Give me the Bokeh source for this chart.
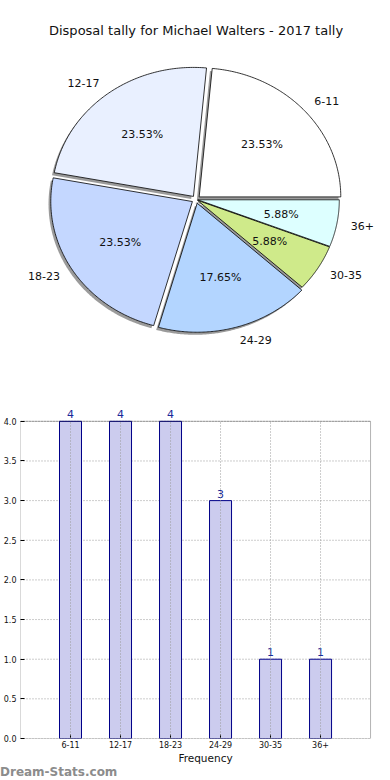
import numpy as np
from bokeh.plotting import figure
from bokeh.layouts import column
from bokeh.models import (Range1d, ColumnDataSource, Label, BoxAnnotation, Div,
                          FixedTicker, PrintfTickFormatter)
from bokeh.embed import file_html
from bokeh.resources import INLINE

# ---------------- data ----------------
chart_title = "Disposal tally for Michael Walters - 2017 tally"
categories = ["6-11", "12-17", "18-23", "24-29", "30-35", "36+"]
counts = [4, 4, 4, 3, 1, 1]
y_ticks = [0.0, 0.5, 1.0, 1.5, 2.0, 2.5, 3.0, 3.5, 4.0]
x_axis_title = "Frequency"
watermark = "Dream-Stats.com"

# ---------------- style ----------------
slice_colors = ["#ffffff", "#e9f0ff", "#c4d7ff", "#b3d5ff", "#cfea8a", "#ddffff"]
explode = [0.03, 0.03, 0.03, 0.03, 0.012, 0.012]
FONT = "DejaVu Sans"
W = 390
H1 = 390
BL = 19                          # frame left inset shared by both plots
FW = W - BL
RX, RY = 142.0, 129.0            # px per unit (pie is drawn as an ellipse)
CX = 195.0 - BL                  # pie centre in frame px from left
CY = 199.0                       # pie centre in frame px from top

# bar-box geometry in page pixels
BOX_L, BOX_R, BOX_T, BOX_B = 19, 370, 421, 740
H2 = 766 - H1
WM_H = 12

# ---------------- pie ----------------
p1 = figure(width=W, height=H1, output_backend="svg", toolbar_location=None,
            x_range=Range1d(-CX / RX, (FW - CX) / RX),
            y_range=Range1d(-(H1 - CY) / RY, CY / RY),
            x_axis_location=None, y_axis_location=None,
            min_border_left=BL, min_border_right=0,
            min_border_top=0, min_border_bottom=0)
p1.grid.visible = False
p1.outline_line_color = None

vals = np.array(counts, dtype=float)
fracs = vals / vals.sum()
ends = np.cumsum(fracs) * 2 * np.pi
starts = ends - fracs * 2 * np.pi

wx, wy, sx, sy = [], [], [], []
for s, e, ex, f, cat in zip(starts, ends, explode, fracs, categories):
    mid = (s + e) / 2
    ox, oy = ex * np.cos(mid), ex * np.sin(mid)
    t = np.linspace(s, e, 120)
    px = np.concatenate([[ox], ox + np.cos(t)])
    py = np.concatenate([[oy], oy + np.sin(t)])
    wx.append(px); wy.append(py)
    sx.append(px - 0.016); sy.append(py - 0.02)
    p1.add_layout(Label(x=ox + 0.6 * np.cos(mid), y=oy + 0.6 * np.sin(mid),
                        text="%.2f%%" % (f * 100), text_align="center",
                        text_baseline="middle", text_font=FONT,
                        text_font_size="11px", text_color="#111111"))
    p1.add_layout(Label(x=ox + 1.1 * np.cos(mid), y=oy + 1.1 * np.sin(mid),
                        text=cat, text_align="left" if np.cos(mid) > 0 else "right",
                        text_baseline="middle", text_font=FONT,
                        text_font_size="11px", text_color="#111111"))

p1.patches(sx, sy, fill_color="#7a7a7a", fill_alpha=0.75, line_color=None)
p1.patches(wx, wy, fill_color=slice_colors, line_color="black", line_width=0.8)
p1.add_layout(Label(x=0, y=(CY - 30) / RY, text=chart_title, text_align="center",
                    text_baseline="middle", text_font=FONT, text_font_size="13px",
                    text_color="#111111"))

# ---------------- bars ----------------
xs = list(range(len(categories)))
x_lo, x_hi = -1, len(categories)
y_lo, y_hi = y_ticks[0], y_ticks[-1]
ppx = (BOX_R - BOX_L) / (x_hi - x_lo)
ppy = (BOX_B - BOX_T) / (y_hi - y_lo)
p2 = figure(width=W, height=H2, output_backend="svg", toolbar_location=None,
            x_range=Range1d(x_lo, x_lo + FW / ppx),
            y_range=Range1d(y_lo, y_lo + (BOX_B - H1) / ppy),
            min_border_top=0, min_border_bottom=H1 + H2 - BOX_B,
            min_border_left=BL, min_border_right=0)
p2.grid.visible = False
p2.outline_line_color = None

# dotted grid limited to the box
p2.segment(x0=xs, y0=[y_lo] * len(xs), x1=xs, y1=[y_hi] * len(xs),
           line_color="#9a9a9a", line_dash="1 2", line_width=1, level="overlay")
p2.segment(x0=[x_lo] * len(y_ticks), y0=y_ticks, x1=[x_hi] * len(y_ticks), y1=y_ticks,
           line_color="#9a9a9a", line_dash="1 2", line_width=1, level="underlay")

src = ColumnDataSource(dict(x=xs, top=counts))
p2.vbar(x="x", top="top", width=0.44, source=src, fill_color="#ccccee",
        line_color="#000088", line_width=1)

p2.add_layout(BoxAnnotation(left=x_lo, right=x_hi, bottom=y_lo, top=y_hi,
                            fill_alpha=0, line_color="black", line_width=1))

p2.xaxis.ticker = FixedTicker(ticks=xs)
p2.xaxis.major_label_overrides = {i: c for i, c in zip(xs, categories)}
p2.yaxis.ticker = FixedTicker(ticks=y_ticks)
p2.yaxis.formatter = PrintfTickFormatter(format="%.1f")
for ax in (p2.xaxis, p2.yaxis):
    ax.axis_line_color = None
    ax.major_tick_in = 4
    ax.major_tick_out = 0
    ax.minor_tick_line_color = None
    ax.major_tick_line_color = "black"
    ax.major_label_text_font = FONT
    ax.major_label_text_font_size = "8px"
    ax.major_label_text_color = "#111111"
p2.xaxis.major_label_standoff = 2
p2.yaxis.major_label_standoff = 4
p2.xaxis.axis_label = x_axis_title
p2.xaxis.axis_label_text_font = FONT
p2.xaxis.axis_label_text_font_size = "10.5px"
p2.xaxis.axis_label_text_font_style = "normal"
p2.xaxis.axis_label_text_color = "#111111"
p2.xaxis.axis_label_standoff = 1

for xv, cv in zip(xs, counts):
    p2.add_layout(Label(x=xv, y=cv, y_offset=3, text=str(cv), text_align="center",
                        text_baseline="bottom", text_font=FONT,
                        text_font_size="11px", text_color="#1a2a99"))

wm = Div(text=watermark, width=W, height=WM_H, margin=(0, 0, 0, 0),
         styles={"font-family": FONT, "font-size": "12px", "font-weight": "bold",
                 "color": "#8c8c8c", "line-height": "12px", "margin": "0",
                 "padding": "0", "white-space": "nowrap"})

layout = column(p1, p2, wm, spacing=0)
open("out.html", "w").write(file_html(layout, INLINE))
